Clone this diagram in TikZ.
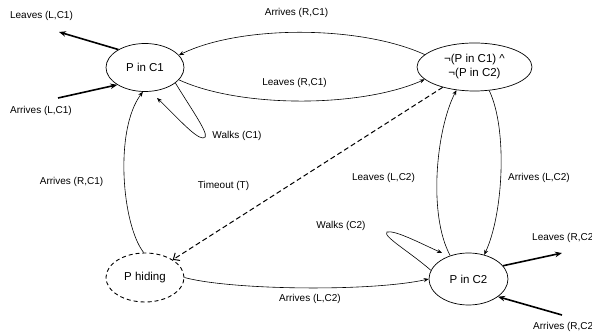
\documentclass[tikz,border=0pt]{standalone}
\usepackage{fontspec}
\setmainfont{Liberation Sans}
\usetikzlibrary{shapes.geometric,arrows.meta}
\begin{document}
\begin{tikzpicture}[x=1pt,y=-1pt,
  st/.style={ellipse,draw,line width=0.7pt,inner sep=0pt,font=\fontsize{11.5}{14}\selectfont,align=center},
  lab/.style={font=\fontsize{10}{12}\selectfont,inner sep=0pt},
  arr/.style={-{Stealth[length=5pt,width=4pt]},line width=0.6pt},
  boldarr/.style={-{Stealth[length=7pt,width=5.5pt]},line width=1.6pt},
  dasharr/.style={-{Straight Barb[length=5pt,width=9pt,line width=1pt]},line width=1pt,dash pattern=on 5pt off 3pt}
]
\useasboundingbox (0,0) rectangle (592,336);
% states
\node[st,minimum width=78pt,minimum height=48pt] (c1) at (145,67.5) {P in C1};
\node[st,minimum width=115pt,minimum height=48pt] (tr) at (474.5,67) {¬(P in C1) \textasciicircum\\¬(P in C2)};
\node[st,minimum width=78pt,minimum height=49pt,dash pattern=on 4pt off 3pt,line width=0.9pt] (ph) at (145,277.5) {P hiding};
\node[st,minimum width=79pt,minimum height=52pt] (c2) at (468.5,279) {P in C2};
% free ends
\coordinate (lc1) at (59,32);
\coordinate (ac1) at (58,98);
\coordinate (lc2) at (562,253);
\coordinate (ac2) at (562,315);
\coordinate (w1) at (157,98);
\coordinate (w2) at (442,253);
% thick arrows
\draw[boldarr] (c1.146) -- (lc1);
\draw[boldarr] (ac1) -- (c1.212);
\draw[boldarr] (c2.21) -- (lc2);
\draw[boldarr] (ac2) -- (c2.-31);
% transitions
\draw[arr] (tr.166) .. controls (360,25) and (240,25) .. (c1.20);
\draw[arr] (c1.-20) .. controls (240,108) and (360,108) .. (tr.-166);
\draw[arr] (c1.-27) .. controls (195,115) and (212,138) .. (203,138) .. controls (195,138) and (175,115) .. (w1);
\draw[arr] (ph.93) .. controls (122,225) and (114,130) .. (c1.265);
\draw[dasharr] (tr) -- (ph);
\draw[arr] (ph.east) .. controls (230,290) and (370,292) .. (c2.west);
\draw[arr] (c2.128) .. controls (428,215) and (436,130) .. (tr.232);
\draw[arr] (tr.-58) .. controls (508,130) and (503,215) .. (c2.57);
\draw[arr] (c2.167) .. controls (410,252) and (382,236) .. (387,232) .. controls (395,230) and (420,243) .. (w2);
% labels
\node[lab] (t1) at (41.5,16) {Leaves (L,C1)};
\node[lab] (t2) at (41,111) {Arrives (L,C1)};
\node[lab] (t3) at (296.5,13) {Arrives (R,C1)};
\node[lab] (t4) at (294.5,83) {Leaves (R,C1)};
\node[lab] (t5) at (237,136) {Walks (C1)};
\node[lab] (t6) at (71.5,182) {Arrives (R,C1)};
\node[lab] (t7) at (223.5,185.5) {Timeout (T)};
\node[lab] (t8) at (383.5,178) {Leaves (L,C2)};
\node[lab] (t9) at (539,178) {Arrives (L,C2)};
\node[lab] (t10) at (341,226) {Walks (C2)};
\node[lab,anchor=west] (t11) at (532,238) {Leaves (R,C2)};
\node[lab,anchor=west] (t12) at (533,327) {Arrives (R,C2)};
\node[lab] (t13) at (310,299) {Arrives (L,C2)};
\end{tikzpicture}
\end{document}
